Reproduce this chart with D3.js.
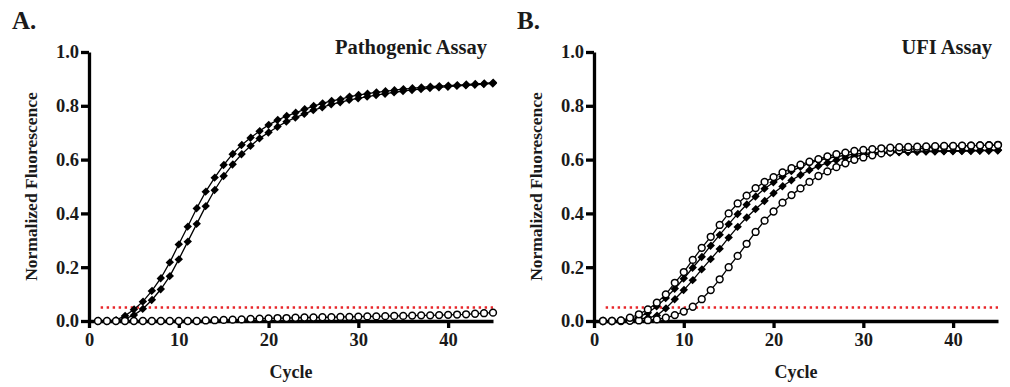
<!DOCTYPE html>
<html>
<head>
<meta charset="utf-8">
<script src="https://cdn.jsdelivr.net/npm/d3@7"></script>
<style>
  body { margin: 0; background: #fff; }
  svg text { font-family: 'Liberation Serif', 'Times New Roman', serif; font-weight: bold; fill: #1a1a1a; }
</style>
</head>
<body>
<div id="chart"></div>
<script>
// cycles 1..45
const cycles = d3.range(1, 46);
const xTicks = [0, 10, 20, 30, 40];
const yTicks = [0, 0.2, 0.4, 0.6, 0.8, 1.0];
const threshold = 0.05;

// A. Pathogenic assay
const pathoPos1 = [0, 0, 0.003, 0.019, 0.043, 0.072, 0.112, 0.159, 0.218, 0.285,
  0.351, 0.419, 0.481, 0.533, 0.580, 0.621, 0.654, 0.681, 0.706, 0.729,
  0.747, 0.762, 0.774, 0.787, 0.799, 0.809, 0.818, 0.824, 0.834, 0.840,
  0.845, 0.850, 0.854, 0.858, 0.862, 0.865, 0.868, 0.871, 0.873, 0.875,
  0.877, 0.879, 0.881, 0.883, 0.886];
const pathoPos2 = [0, 0, 0, 0.008, 0.022, 0.045, 0.078, 0.118, 0.167, 0.229,
  0.295, 0.361, 0.427, 0.487, 0.539, 0.582, 0.620, 0.651, 0.679, 0.701,
  0.722, 0.741, 0.756, 0.770, 0.784, 0.794, 0.806, 0.813, 0.822, 0.828,
  0.834, 0.840, 0.845, 0.850, 0.855, 0.859, 0.862, 0.866, 0.869, 0.871,
  0.874, 0.876, 0.878, 0.881, 0.883];
const pathoNeg = [0, 0, 0, 0, 0, 0, 0, 0, 0, 0,
  0, 0, 0.002, 0.003, 0.004, 0.005, 0.006, 0.008, 0.009, 0.010,
  0.011, 0.011, 0.012, 0.013, 0.013, 0.014, 0.014, 0.015, 0.015, 0.016,
  0.017, 0.017, 0.018, 0.019, 0.019, 0.020, 0.021, 0.021, 0.022, 0.023,
  0.024, 0.025, 0.027, 0.029, 0.031];

// B. UFI assay
const ufiCircle1 = [0, 0, 0.002, 0.012, 0.025, 0.043, 0.068, 0.099, 0.142, 0.182,
  0.227, 0.272, 0.313, 0.357, 0.400, 0.437, 0.466, 0.494, 0.517, 0.535,
  0.552, 0.568, 0.581, 0.592, 0.602, 0.612, 0.620, 0.626, 0.632, 0.636,
  0.639, 0.642, 0.644, 0.646, 0.647, 0.648, 0.649, 0.650, 0.651, 0.651,
  0.652, 0.652, 0.653, 0.653, 0.654];
const ufiDiamond1 = [0, 0, 0.001, 0.006, 0.015, 0.030, 0.055, 0.085, 0.120, 0.158,
  0.198, 0.238, 0.280, 0.320, 0.360, 0.398, 0.433, 0.463, 0.492, 0.516,
  0.537, 0.557, 0.573, 0.587, 0.597, 0.605, 0.611, 0.616, 0.620, 0.623,
  0.625, 0.627, 0.628, 0.629, 0.630, 0.631, 0.631, 0.632, 0.632, 0.633,
  0.633, 0.634, 0.634, 0.635, 0.635];
const ufiDiamond2 = [0, 0, 0.001, 0.003, 0.008, 0.012, 0.020, 0.047, 0.081, 0.115,
  0.152, 0.192, 0.230, 0.268, 0.310, 0.350, 0.385, 0.416, 0.446, 0.475,
  0.501, 0.523, 0.543, 0.561, 0.576, 0.588, 0.598, 0.606, 0.612, 0.617,
  0.620, 0.623, 0.625, 0.627, 0.628, 0.629, 0.630, 0.630, 0.631, 0.631,
  0.632, 0.632, 0.633, 0.633, 0.634];
const ufiCircle2 = [0, 0, 0, 0.001, 0.002, 0.003, 0.006, 0.012, 0.022, 0.035,
  0.053, 0.081, 0.115, 0.155, 0.200, 0.242, 0.287, 0.331, 0.373, 0.407,
  0.440, 0.468, 0.493, 0.517, 0.539, 0.556, 0.572, 0.586, 0.599, 0.608,
  0.616, 0.623, 0.629, 0.634, 0.638, 0.641, 0.644, 0.646, 0.648, 0.650,
  0.651, 0.652, 0.653, 0.654, 0.655];

const panels = [
  { letter: 'A.', title: 'Pathogenic Assay', left: 89,
    series: [
      { values: pathoPos2, marker: 'diamond' },
      { values: pathoPos1, marker: 'diamond' },
      { values: pathoNeg, marker: 'circle' }
    ] },
  { letter: 'B.', title: 'UFI Assay', left: 594,
    series: [
      { values: ufiDiamond2, marker: 'diamond' },
      { values: ufiDiamond1, marker: 'diamond' },
      { values: ufiCircle2, marker: 'circle' },
      { values: ufiCircle1, marker: 'circle' }
    ] }
];

const width = 1010, height = 387;
const plotW = 404, plotTop = 52, plotBottom = 321;

const svg = d3.select('#chart').append('svg')
  .attr('width', width)
  .attr('height', height);

panels.forEach(p => drawPanel(p));

function drawPanel(p) {
  const g = svg.append('g').attr('transform', `translate(${p.left},0)`);

  const x = d3.scaleLinear().domain([0, 45]).range([0, plotW]);
  const y = d3.scaleLinear().domain([0, 1]).range([plotBottom, plotTop]);

  // axes
  const xAxis = g.append('g')
    .attr('transform', `translate(0,${plotBottom})`)
    .call(d3.axisBottom(x).tickValues(xTicks).tickSize(7).tickSizeOuter(0).tickPadding(5));
  const yAxis = g.append('g')
    .call(d3.axisLeft(y).tickValues(yTicks).tickFormat(d3.format('.1f')).tickSize(8).tickSizeOuter(0).tickPadding(2));

  [xAxis, yAxis].forEach(a => {
    a.select('.domain').attr('stroke', '#000').attr('stroke-width', 3.3);
    a.selectAll('.tick line').attr('stroke', '#000').attr('stroke-width', 3.3);
    a.selectAll('.tick text')
      .attr('fill', '#1a1a1a')
      .style('font-size', '18.5px');
  });

  // threshold line
  g.append('line')
    .attr('x1', x(1.3)).attr('x2', x(45))
    .attr('y1', y(threshold)).attr('y2', y(threshold))
    .attr('stroke', '#e8262a')
    .attr('stroke-width', 2.6)
    .attr('stroke-dasharray', '2.4,3.6');

  const line = d3.line()
    .x((d, i) => x(cycles[i]))
    .y(d => y(d));

  p.series.forEach(s => {
    g.append('path')
      .datum(s.values)
      .attr('d', line)
      .attr('fill', 'none')
      .attr('stroke', '#000')
      .attr('stroke-width', 1.3);

    const pts = g.append('g').selectAll('.pt')
      .data(s.values)
      .enter();

    if (s.marker === 'circle') {
      pts.append('circle')
        .attr('cx', (d, i) => x(cycles[i]))
        .attr('cy', d => y(d))
        .attr('r', 3.4)
        .attr('fill', '#fff')
        .attr('stroke', '#000')
        .attr('stroke-width', 1.5);
    } else {
      const sym = d3.symbol().type(d3.symbolSquare).size(32);
      pts.append('path')
        .attr('d', sym)
        .attr('transform', (d, i) => `translate(${x(cycles[i])},${y(d)}) rotate(45) scale(1,1.1)`)
        .attr('fill', '#000');
    }
  });

  // texts
  svg.append('text')
    .attr('x', p.left - 77)
    .attr('y', 29)
    .style('font-size', '25px')
    .text(p.letter);

  g.append('text')
    .attr('x', plotW - 6)
    .attr('y', 54)
    .attr('text-anchor', 'end')
    .style('font-size', '20.5px')
    .text(p.title);

  g.append('text')
    .attr('x', plotW / 2)
    .attr('y', 378)
    .attr('text-anchor', 'middle')
    .style('font-size', '18px')
    .text('Cycle');

  g.append('text')
    .attr('transform', `translate(-52,${(plotTop + plotBottom) / 2}) rotate(-90)`)
    .attr('text-anchor', 'middle')
    .style('font-size', '17.5px')
    .text('Normalized Fluorescence');
}
</script>
</body>
</html>
